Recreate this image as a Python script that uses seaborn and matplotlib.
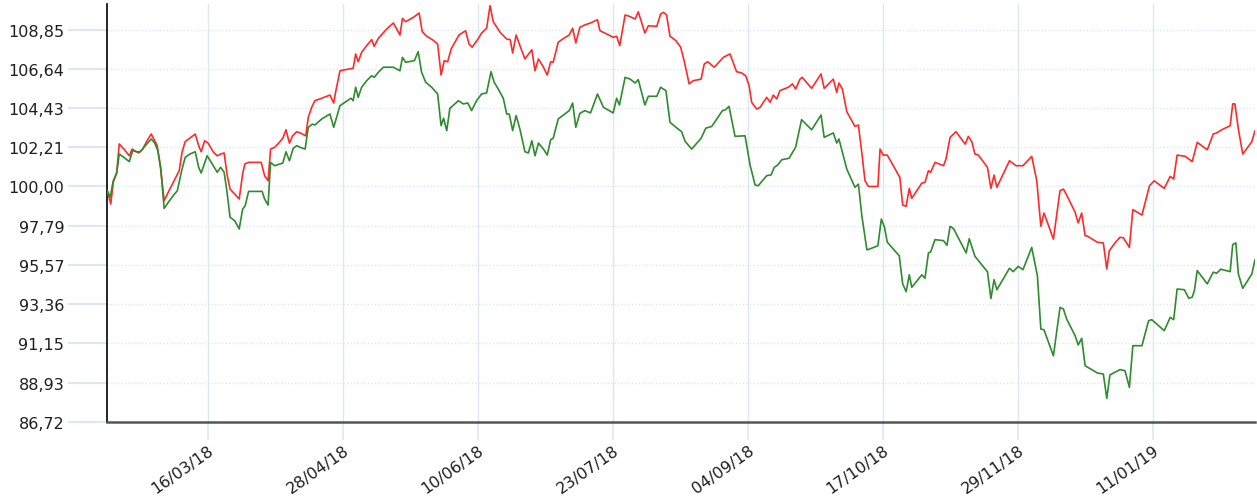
import numpy as np
import pandas as pd
import matplotlib
matplotlib.use("Agg")
import matplotlib.pyplot as plt
import matplotlib.dates as mdates
from matplotlib.ticker import FixedLocator, FixedFormatter
import seaborn as sns

# ---------------- data ----------------
start_date = "2018-02-12"
end_offset_days = 365.5

red_days = [0.0, 1.1, 1.9, 3.0, 3.8, 5.3, 7.0, 7.9, 8.7, 10.0, 11.3, 12.5, 14.0, 15.1, 15.9, 17.0,
            18.1, 19.4, 21.0, 22.9, 23.8, 24.8, 26.6, 28.0, 29.1, 29.9, 31.0, 32.1, 33.8, 35.0, 36.1,
            37.2, 38.2, 39.1, 40.6, 42.0, 43.1, 43.8, 45.0, 49.0, 50.1, 51.2, 52.0, 53.3, 54.6, 55.9,
            56.9, 58.0, 59.0, 60.3, 61.4, 63.2, 64.0, 65.1, 66.1, 68.3, 70.9, 72.1, 72.7, 74.1, 75.7,
            78.3, 79.1, 79.9, 81.0, 82.6, 84.2, 85.0, 86.3, 89.0, 91.1, 93.2, 94.0, 95.0, 97.5, 99.3,
            100.3, 101.7, 103.5, 105.2, 106.3, 107.3, 108.4, 109.5, 112.0, 114.1, 115.2, 116.2, 118.2,
            119.2, 120.8, 121.9, 122.9, 125.1, 127.2, 128.3, 129.1, 130.2, 131.4, 133.0, 135.2, 136.2,
            137.3, 138.9, 140.1, 141.2, 142.0, 143.6, 145.0, 147.1, 148.2, 149.2, 150.5, 152.1, 153.9,
            156.1, 156.9, 159.0, 161.1, 162.2, 163.2, 164.9, 166.2, 168.1, 169.1, 171.2, 172.3, 175.0,
            176.2, 177.1, 178.1, 179.2, 181.1, 182.6, 183.7, 185.3, 186.6, 189.1, 190.1, 191.2, 193.3,
            196.2, 198.3, 200.4, 202.0, 203.3, 204.4, 205.2, 206.8, 207.9, 210.0, 211.1, 212.1, 213.2,
            214.2, 216.9, 218.2, 219.2, 220.6, 221.3, 224.3, 227.3, 228.3, 231.2, 232.3, 233.0, 234.1,
            235.5, 238.1, 239.2, 240.4, 241.3, 242.4, 245.4, 246.1, 247.1, 248.4, 252.4, 253.3, 254.4,
            255.4, 256.2, 259.4, 260.4, 261.5, 262.2, 263.6, 266.3, 267.1, 268.4, 270.3, 273.2, 274.2,
            275.3, 276.3, 277.4, 280.3, 281.4, 282.4, 283.3, 287.3, 289.4, 291.6, 294.4, 296.0, 297.3,
            298.3, 301.3, 303.4, 304.5, 305.5, 308.2, 309.2, 310.3, 311.4, 312.1, 315.3, 317.2, 318.3,
            319.1, 320.9, 322.5, 323.6, 325.5, 326.6, 329.5, 331.9, 333.4, 336.6, 338.5, 339.6, 340.7,
            343.3, 345.5, 347.1, 350.3, 352.2, 353.3, 354.9, 357.6, 358.4, 359.1, 360.2, 361.6, 364.5,
            365.5]
red_values = [99.76, 99.01, 100.23, 100.80, 102.40, 102.11, 101.73, 102.11, 102.02, 101.89, 102.11,
              102.53, 102.96, 102.58, 102.30, 100.98, 99.19, 99.67, 100.23, 100.89, 101.93, 102.53,
              102.77, 102.96, 102.30, 101.96, 102.58, 102.45, 101.93, 101.73, 101.83, 101.89, 100.61,
              99.85, 99.57, 99.29, 100.70, 101.27, 101.36, 101.36, 100.61, 100.32, 102.11, 102.21,
              102.45, 102.72, 103.20, 102.45, 102.86, 103.09, 103.02, 102.86, 103.90, 104.47, 104.84,
              104.98, 105.16, 104.71, 105.32, 106.53, 106.59, 106.67, 107.48, 107.04, 107.57, 107.95,
              108.29, 107.91, 108.36, 108.89, 109.23, 108.55, 109.49, 109.30, 109.55, 109.79, 108.74,
              108.48, 108.29, 108.04, 106.29, 107.10, 107.04, 107.76, 108.55, 108.79, 108.04, 107.86,
              108.36, 108.66, 108.93, 110.21, 109.30, 108.70, 108.32, 108.29, 107.53, 108.55, 107.95,
              107.20, 107.72, 106.53, 107.20, 106.73, 106.29, 107.04, 107.01, 108.14, 108.32, 108.55,
              108.93, 108.10, 108.99, 109.12, 109.23, 109.41, 108.79, 108.61, 108.42, 108.48, 107.95,
              109.68, 109.61, 109.45, 109.86, 108.66, 109.07, 109.04, 109.73, 109.83, 109.68, 108.48,
              108.23, 107.86, 107.10, 105.79, 105.97, 106.06, 106.91, 107.04, 106.73, 107.29, 107.48,
              106.48, 106.41, 106.25, 105.69, 104.75, 104.37, 104.47, 105.03, 104.75, 105.16, 104.94,
              105.41, 105.60, 105.79, 105.50, 106.06, 106.16, 105.54, 106.35, 105.54, 106.06, 105.31,
              105.84, 105.50, 104.22, 103.39, 103.47, 101.73, 100.32, 100.00, 100.00, 102.11, 101.77,
              101.77, 100.51, 98.95, 98.88, 99.89, 99.33, 100.19, 100.23, 100.89, 100.80, 101.36,
              101.17, 101.55, 102.77, 103.09, 102.39, 102.83, 102.53, 101.83, 101.77, 101.08, 99.89,
              100.64, 99.95, 101.45, 101.17, 101.17, 101.70, 100.32, 97.75, 98.50, 97.03, 99.76,
              99.85, 99.52, 98.55, 97.94, 98.50, 97.22, 97.20, 96.85, 96.81, 95.34, 96.37, 96.81,
              97.13, 97.10, 96.56, 98.69, 98.39, 100.04, 100.32, 99.89, 100.57, 100.42, 101.77,
              101.70, 101.40, 102.49, 102.07, 102.96, 103.02, 103.20, 103.43, 104.66, 104.66, 103.24,
              101.83, 102.53, 103.15]

green_days = [0.0, 0.9, 1.9, 3.0, 3.8, 5.3, 7.0, 8.1, 9.4, 10.5, 12.1, 14.0, 15.1, 16.1, 17.0, 18.1,
              19.4, 21.0, 22.3, 23.8, 24.8, 26.3, 28.0, 29.1, 29.9, 31.8, 33.1, 35.0, 36.1, 37.2,
              38.0, 39.1, 40.6, 42.0, 43.1, 43.9, 45.0, 49.3, 50.1, 51.2, 52.0, 53.3, 55.9, 56.9,
              58.0, 59.2, 60.3, 61.4, 63.0, 64.0, 65.3, 66.1, 68.3, 70.9, 72.1, 74.1, 75.7, 77.6,
              78.3, 79.1, 79.9, 81.0, 82.6, 84.2, 85.0, 86.3, 87.9, 91.1, 93.2, 94.0, 95.0, 97.8,
              99.0, 100.1, 101.4, 103.3, 105.2, 106.3, 107.1, 108.1, 109.1, 111.8, 113.4, 114.8,
              116.0, 117.6, 119.2, 120.8, 122.2, 123.2, 124.5, 126.1, 127.2, 128.0, 129.1, 130.2,
              131.4, 133.0, 134.1, 135.2, 136.2, 137.3, 138.9, 140.1, 141.2, 142.0, 143.6, 145.0,
              147.1, 148.2, 149.2, 150.5, 152.1, 153.9, 156.1, 158.0, 161.1, 162.2, 163.1, 164.9,
              166.5, 168.1, 169.1, 171.2, 172.3, 175.0, 176.2, 177.9, 179.2, 181.1, 182.9, 184.0,
              186.1, 189.1, 190.6, 192.5, 195.9, 196.9, 198.0, 199.9, 203.1, 204.7, 206.3, 207.3,
              210.0, 211.4, 212.4, 213.5, 214.8, 217.1, 219.2, 221.1, 224.3, 227.3, 228.3, 231.2,
              232.3, 233.0, 235.5, 238.1, 239.2, 240.3, 241.9, 242.5, 245.4, 246.5, 247.5, 248.4,
              252.2, 253.3, 254.4, 255.4, 256.2, 259.4, 260.4, 261.5, 262.2, 263.6, 266.3, 267.4,
              268.4, 269.5, 273.5, 274.5, 276.3, 280.3, 281.4, 282.4, 283.3, 287.3, 288.5, 290.1,
              291.6, 294.4, 296.2, 297.3, 298.3, 301.3, 303.4, 304.5, 305.5, 308.2, 309.2, 310.3,
              311.4, 315.3, 317.2, 318.3, 319.3, 322.5, 324.1, 325.5, 326.6, 329.5, 331.6, 332.6,
              336.6, 338.5, 339.6, 340.7, 343.0, 344.4, 345.5, 346.2, 347.1, 350.3, 352.2, 353.3,
              354.6, 357.6, 358.4, 359.4, 360.2, 361.6, 364.5, 365.5]
green_values = [99.76, 99.39, 100.32, 100.76, 101.83, 101.64, 101.40, 102.02, 101.96, 101.96, 102.30,
                102.68, 102.45, 102.02, 101.08, 98.76, 99.10, 99.48, 99.76, 100.98, 101.64, 101.83,
                101.96, 101.08, 100.76, 101.73, 101.36, 100.80, 101.08, 100.80, 99.85, 98.26, 98.06,
                97.60, 98.72, 98.91, 99.72, 99.72, 99.29, 98.95, 101.36, 101.17, 101.32, 101.96,
                101.45, 102.15, 102.30, 102.21, 102.11, 103.34, 103.52, 103.47, 103.81, 104.09,
                103.34, 104.56, 104.75, 104.98, 104.84, 105.60, 105.03, 105.60, 105.97, 106.25,
                106.16, 106.44, 106.73, 106.73, 106.53, 107.29, 107.01, 107.10, 107.61, 106.44,
                105.88, 105.60, 105.22, 103.43, 103.85, 103.15, 104.41, 104.84, 104.66, 104.71,
                104.28, 104.84, 105.22, 105.28, 106.48, 105.88, 105.50, 104.98, 104.09, 104.09,
                103.15, 104.00, 103.24, 101.96, 101.89, 102.58, 101.73, 102.45, 102.11, 101.77,
                102.64, 102.72, 103.81, 104.00, 104.28, 104.71, 103.34, 104.13, 104.28, 104.15,
                105.22, 104.47, 104.15, 104.98, 104.60, 106.16, 106.06, 105.84, 106.03, 104.60,
                105.09, 105.09, 105.60, 105.41, 103.62, 103.34, 103.09, 102.55, 102.11, 102.72,
                103.29, 103.39, 104.28, 104.33, 104.52, 102.83, 102.86, 101.21, 100.08, 100.04,
                100.61, 100.65, 101.08, 101.21, 101.51, 101.59, 102.21, 103.77, 103.20, 104.03,
                102.77, 103.02, 102.45, 102.68, 100.98, 99.95, 100.13, 98.34, 96.42, 96.45, 96.65,
                98.16, 97.70, 96.85, 96.09, 94.50, 94.06, 95.01, 94.31, 95.01, 94.82, 96.25, 96.30,
                97.00, 96.94, 96.68, 97.75, 97.62, 96.25, 97.05, 96.06, 95.18, 93.67, 94.74, 94.17,
                95.38, 95.19, 95.49, 95.30, 96.56, 94.96, 91.95, 91.91, 90.44, 93.17, 93.08, 92.52,
                91.58, 91.05, 91.43, 89.88, 89.47, 89.41, 88.04, 89.36, 89.66, 89.60, 88.66, 91.01,
                91.01, 92.42, 92.48, 91.86, 92.61, 92.48, 94.21, 94.17, 93.69, 93.75, 94.12, 95.25,
                94.50, 95.16, 95.10, 95.33, 95.19, 96.72, 96.81, 95.06, 94.25, 95.06, 95.87]

y_ticks = [86.72, 88.93, 91.15, 93.36, 95.57, 97.79, 100.00, 102.21, 104.43, 106.64, 108.85]
y_tick_labels = ["86,72", "88,93", "91,15", "93,36", "95,57", "97,79", "100,00", "102,21",
                 "104,43", "106,64", "108,85"]
x_tick_dates = ["2018-03-16", "2018-04-28", "2018-06-10", "2018-07-23", "2018-09-04",
                "2018-10-17", "2018-11-29", "2019-01-11"]
x_tick_labels = ["16/03/18", "28/04/18", "10/06/18", "23/07/18", "04/09/18", "17/10/18",
                 "29/11/18", "11/01/19"]
y_top = 110.30

red_color = "#ff2a2a"
green_color = "#2e8b2e"
grid_color = "#dce7f5"

# ---------------- build frames ----------------
t0 = pd.Timestamp(start_date)
red_df = pd.DataFrame({"date": t0 + pd.to_timedelta(red_days, unit="D"), "value": red_values})
green_df = pd.DataFrame({"date": t0 + pd.to_timedelta(green_days, unit="D"), "value": green_values})

sns.set_theme(style="white")
plt.rcParams["font.family"] = ["DejaVu Sans"]

fig = plt.figure(figsize=(12.57, 5.02), dpi=100)
ax = fig.add_axes([107.3 / 1257, 79.3 / 502, (1255 - 107.3) / 1257, (422.7 - 5) / 502])

sns.lineplot(data=red_df, x="date", y="value", ax=ax, color=red_color, linewidth=1.2,
             estimator=None, sort=False, zorder=3)
sns.lineplot(data=green_df, x="date", y="value", ax=ax, color=green_color, linewidth=1.2,
             estimator=None, sort=False, zorder=4)

ax.set_xlim(t0, t0 + pd.Timedelta(days=end_offset_days))
ax.set_ylim(y_ticks[0], y_top)
ax.set_xlabel("")
ax.set_ylabel("")

ax.yaxis.set_major_locator(FixedLocator(y_ticks))
ax.yaxis.set_major_formatter(FixedFormatter(y_tick_labels))
xt = mdates.date2num(pd.to_datetime(x_tick_dates))
ax.xaxis.set_major_locator(FixedLocator(xt))
ax.xaxis.set_major_formatter(FixedFormatter(x_tick_labels))

ax.grid(False)
for yv in y_ticks[1:]:
    ax.axhline(yv, color=grid_color, lw=1.0, ls=(0, (1, 1.5)), zorder=1)
for xv in xt:
    ax.axvline(xv, color=grid_color, lw=1.0, zorder=1)

ax.tick_params(axis="y", length=28, width=1.5, color=grid_color, pad=3, labelsize=11.5,
               labelcolor="#1e1e1e", left=True)
ax.tick_params(axis="x", length=13, width=1.2, color=grid_color, pad=2, labelsize=11.5,
               labelcolor="#1e1e1e", bottom=True)
for lab in ax.get_xticklabels():
    lab.set_rotation(35)
    lab.set_ha("right")
    lab.set_va("top")
    lab.set_rotation_mode("anchor")

for s in ["top", "right"]:
    ax.spines[s].set_visible(False)
ax.spines["left"].set_color("#000000")
ax.spines["left"].set_linewidth(1.2)
ax.spines["bottom"].set_color("#555555")
ax.spines["bottom"].set_linewidth(1.8)

fig.savefig("out.png", dpi=100)
